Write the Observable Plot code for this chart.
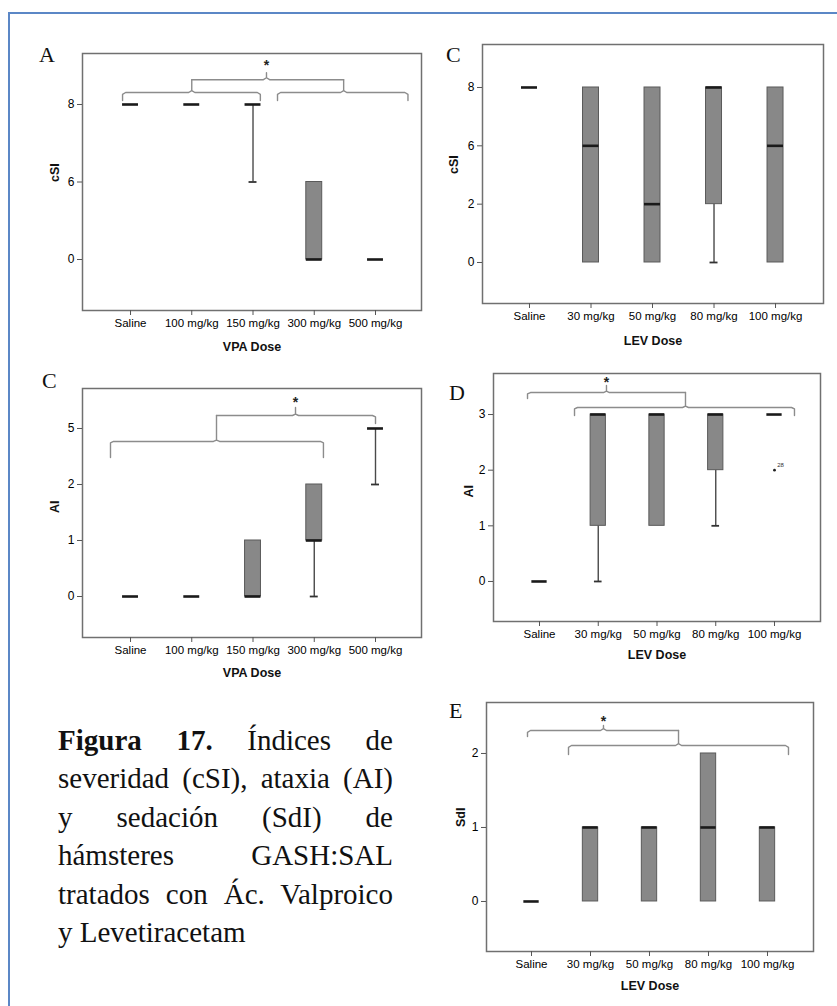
<!DOCTYPE html>
<html>
<head>
<meta charset="utf-8">
<script src="https://cdn.jsdelivr.net/npm/d3@7"></script>
<script src="https://cdn.jsdelivr.net/npm/@observablehq/plot@0.6"></script>
<style>
  html, body { margin: 0; padding: 0; background: #fff; overflow: hidden; }
  #page { position: relative; width: 837px; height: 1006px; overflow: hidden; background: #fff; }
  #border { position: absolute; left: 8px; top: 12px; width: 900px; height: 1100px;
            border-left: 2.5px solid #5b87c6; border-top: 2.5px solid #5b87c6; }
  .panel { position: absolute; }
  .letter { position: absolute; font-family: "Liberation Serif", "Times New Roman", serif;
            font-size: 22px; line-height: 22px; color: #111; }
  #caption { position: absolute; left: 58px; top: 721px; width: 335px;
             font-family: "Liberation Serif", "Times New Roman", serif; font-size: 29px;
             line-height: 38.4px; color: #111; }
  #caption div { text-align: justify; text-align-last: justify; white-space: nowrap; }
  #caption div.last { text-align-last: left; }
</style>
</head>
<body>
<div id="page">
  <div id="border"></div>
  <div class="letter" style="left:39px;top:43.6px">A</div>
  <div class="letter" style="left:446px;top:43.6px">C</div>
  <div class="letter" style="left:42px;top:369.6px">C</div>
  <div class="letter" style="left:449px;top:381.6px">D</div>
  <div class="letter" style="left:449px;top:699.6px">E</div>
  <div id="caption">
    <div><b>Figura 17.</b> Índices de</div>
    <div>severidad (cSI), ataxia (AI)</div>
    <div>y sedación (SdI) de</div>
    <div>hámsteres GASH:SAL</div>
    <div>tratados con Ác. Valproico</div>
    <div class="last">y Levetiracetam</div>
  </div>
</div>
<script>
// ---------- categories ----------
const vpaDoses = ["Saline", "100 mg/kg", "150 mg/kg", "300 mg/kg", "500 mg/kg"];
const levDoses = ["Saline", "30 mg/kg", "50 mg/kg", "80 mg/kg", "100 mg/kg"];

// ---------- Panel A: cSI vs VPA dose ----------
const csiVpaLevels = [0, 6, 8];
const csiVpaLo  = [8, 8, 6, 0, 0];
const csiVpaQ1  = [8, 8, 8, 0, 0];
const csiVpaMed = [8, 8, 8, 0, 0];
const csiVpaQ3  = [8, 8, 8, 6, 0];
const csiVpaHi  = [8, 8, 8, 6, 0];

// ---------- Panel C (top right): cSI vs LEV dose ----------
const csiLevLevels = [0, 2, 6, 8];
const csiLevLo  = [8, 0, 0, 0, 0];
const csiLevQ1  = [8, 0, 0, 2, 0];
const csiLevMed = [8, 6, 2, 8, 6];
const csiLevQ3  = [8, 8, 8, 8, 8];
const csiLevHi  = [8, 8, 8, 8, 8];

// ---------- Panel C (left middle): AI vs VPA dose ----------
const aiVpaLevels = [0, 1, 2, 5];
const aiVpaLo  = [0, 0, 0, 0, 2];
const aiVpaQ1  = [0, 0, 0, 1, 5];
const aiVpaMed = [0, 0, 0, 1, 5];
const aiVpaQ3  = [0, 0, 1, 2, 5];
const aiVpaHi  = [0, 0, 1, 2, 5];

// ---------- Panel D: AI vs LEV dose ----------
const aiLevLevels = [0, 1, 2, 3];
const aiLevLo  = [0, 0, 1, 1, 3];
const aiLevQ1  = [0, 1, 1, 2, 3];
const aiLevMed = [0, 3, 3, 3, 3];
const aiLevQ3  = [0, 3, 3, 3, 3];
const aiLevHi  = [0, 3, 3, 3, 3];
const aiLevOutliers = [{dose: 4, value: 2, id: "28"}];

// ---------- Panel E: SdI vs LEV dose ----------
const sdiLevLevels = [0, 1, 2];
const sdiLevLo  = [0, 0, 0, 0, 0];
const sdiLevQ1  = [0, 0, 0, 0, 0];
const sdiLevMed = [0, 1, 1, 1, 1];
const sdiLevQ3  = [0, 1, 1, 2, 1];
const sdiLevHi  = [0, 1, 1, 2, 1];

// ---------- significance braces (x in dose index, y in level rank) ----------
const bracesA = [
  {xa: -0.13, xb: 2.12, xc: 1.0,  y: 2.155, dropL: 0.105, dropR: 0.105, tip: 2.32},
  {xa: 2.40,  xb: 4.53, xc: 3.48, y: 2.155, dropL: 0.105, dropR: 0.105, tip: 2.32},
  {xa: 1.0,   xb: 3.48, xc: 2.22, y: 2.32,  dropL: 0,     dropR: 0,     tip: 2.41}
];
const starsA = [{x: 2.22, y: 2.54}];
const bracesAI = [
  {xa: -0.327, xb: 3.15, xc: 1.404, y: 2.768, dropL: 0.286, dropR: 0.286, tip: 3.232},
  {xa: 1.404,  xb: 4.0,  xc: 2.694, y: 3.232, dropL: 0,     dropR: 0.143, tip: 3.375}
];
const starsAI = [{x: 2.694, y: 3.518}];
const bracesD = [
  {xa: -0.204, xb: 2.485, xc: 1.14,  y: 3.395, dropL: 0.108, dropR: 0,     tip: 3.521},
  {xa: 0.596,  xb: 4.34,  xc: 2.485, y: 3.126, dropL: 0.144, dropR: 0.144, tip: 3.395}
];
const starsD = [{x: 1.14, y: 3.629}];
const bracesE = [
  {xa: -0.068, xb: 2.492, xc: 1.22,  y: 2.311, dropL: 0.081, dropR: 0,     tip: 2.378},
  {xa: 0.627,  xb: 4.356, xc: 2.492, y: 2.108, dropL: 0.122, dropR: 0.122, tip: 2.311}
];
const starsE = [{x: 1.22, y: 2.473}];

// ---------- helpers ----------
function bracePoints(braces) {
  const pts = [];
  braces.forEach((b, k) => {
    const e = 0.05, r = 0.025;
    const add = (x, y) => pts.push({x, y, k});
    if (b.dropL > 0) { add(b.xa, b.y - b.dropL); add(b.xa, b.y - Math.min(r, b.dropL)); add(b.xa + e, b.y); }
    else add(b.xa, b.y);
    add(b.xc - e, b.y); add(b.xc, b.y + r); add(b.xc, b.tip); add(b.xc, b.y + r); add(b.xc + e, b.y);
    if (b.dropR > 0) { add(b.xb - e, b.y); add(b.xb, b.y - Math.min(r, b.dropR)); add(b.xb, b.y - b.dropR); }
    else add(b.xb, b.y);
  });
  return pts;
}

function panel(cfg) {
  const rank = v => cfg.levels.indexOf(v);
  const rows = cfg.cats.map((c, i) => ({
    i, lo: rank(cfg.lo[i]), q1: rank(cfg.q1[i]), med: rank(cfg.med[i]),
    q3: rank(cfg.q3[i]), hi: rank(cfg.hi[i])
  }));
  const bh = 0.13, ch = 0.065;
  const xTicks = cfg.cats.map((c, i) => i);
  const yTicks = cfg.levels.map((v, i) => i);
  const marks = [
    Plot.frame({stroke: "#707070", strokeWidth: 1.5}),
    Plot.axisX(xTicks, {tickFormat: i => cfg.cats[i], tickSize: 5, tickPadding: 3, fontSize: 11.5, label: null, stroke: "#555", fill: "#000"}),
    Plot.axisY(yTicks, {tickFormat: i => cfg.levels[i], tickSize: 5, tickPadding: 3, fontSize: 12, label: null, stroke: "#555", fill: "#000"}),
    Plot.ruleX(rows.filter(d => d.lo < d.q1), {x: "i", y1: "lo", y2: "q1", stroke: "#4a4a4a", strokeWidth: 1.4}),
    Plot.ruleX(rows.filter(d => d.hi > d.q3), {x: "i", y1: "q3", y2: "hi", stroke: "#4a4a4a", strokeWidth: 1.4}),
    Plot.ruleY(rows.filter(d => d.lo < d.q1), {y: "lo", x1: d => d.i - ch, x2: d => d.i + ch, stroke: "#333", strokeWidth: 1.8}),
    Plot.ruleY(rows.filter(d => d.hi > d.q3), {y: "hi", x1: d => d.i - ch, x2: d => d.i + ch, stroke: "#333", strokeWidth: 1.8}),
    Plot.rect(rows.filter(d => d.q3 > d.q1), {x1: d => d.i - bh, x2: d => d.i + bh, y1: "q1", y2: "q3",
      fill: "#888888", stroke: "#5a5a5a", strokeWidth: 1}),
    Plot.ruleY(rows, {y: "med", x1: d => d.i - bh, x2: d => d.i + bh, stroke: "#1a1a1a", strokeWidth: 2.6}),
    Plot.text([cfg.xLabel], {text: d => d, frameAnchor: "bottom", dy: cfg.titleDy, fontWeight: "bold", fontSize: 12.5, lineAnchor: "middle", fill: "#111"}),
    Plot.text([cfg.yLabel], {text: d => d, frameAnchor: "left", dx: cfg.yLabelDx, rotate: -90, fontWeight: "bold", fontSize: 12.5, lineAnchor: "middle", fill: "#111"})
  ];
  if (cfg.braces) {
    marks.push(Plot.line(bracePoints(cfg.braces), {x: "x", y: "y", z: "k", stroke: "#8c8c8c", strokeWidth: 1.4, curve: "linear"}));
    marks.push(Plot.text(cfg.stars, {x: "x", y: "y", text: () => "*", fontSize: 14, fontWeight: "bold", lineAnchor: "middle", dy: 3, fill: "#222"}));
  }
  if (cfg.outliers) {
    marks.push(Plot.dot(cfg.outliers, {x: "dose", y: d => rank(d.value), r: 1.4, fill: "#222", stroke: null}));
    marks.push(Plot.text(cfg.outliers, {x: "dose", y: d => rank(d.value), text: "id", fontSize: 6, dx: 6, dy: -5, fill: "#333"}));
  }
  const svg = Plot.plot({
    width: cfg.width, height: cfg.height,
    marginLeft: cfg.ml, marginRight: cfg.mr, marginTop: cfg.mt, marginBottom: cfg.mb,
    x: {domain: cfg.xDomain},
    y: {domain: cfg.yDomain},
    style: {fontFamily: "'Liberation Sans', Arial, sans-serif", color: "#1a1a1a", background: "transparent", overflow: "visible"},
    marks
  });
  const wrap = document.createElement("div");
  wrap.className = "panel";
  wrap.style.left = cfg.left + "px";
  wrap.style.top = cfg.top + "px";
  wrap.style.width = cfg.width + "px";
  wrap.appendChild(svg);
  document.getElementById("page").appendChild(wrap);
}

panel({cats: vpaDoses, levels: csiVpaLevels, lo: csiVpaLo, q1: csiVpaQ1, med: csiVpaMed, q3: csiVpaQ3, hi: csiVpaHi,
  braces: bracesA, stars: starsA, xLabel: "VPA Dose", yLabel: "cSI",
  left: 0, top: 40, width: 430, height: 325, ml: 82, mr: 9, mt: 13, mb: 55,
  xDomain: [-0.784, 4.751], yDomain: [-0.658, 2.658], titleDy: 36, yLabelDx: -28});

panel({cats: levDoses, levels: csiLevLevels, lo: csiLevLo, q1: csiLevQ1, med: csiLevMed, q3: csiLevQ3, hi: csiLevHi,
  xLabel: "LEV Dose", yLabel: "cSI",
  left: 430, top: 30, width: 407, height: 325, ml: 52, mr: 14, mt: 14, mb: 52,
  xDomain: [-0.764, 4.78], yDomain: [-0.703, 3.737], titleDy: 37, yLabelDx: -29});

panel({cats: vpaDoses, levels: aiVpaLevels, lo: aiVpaLo, q1: aiVpaQ1, med: aiVpaMed, q3: aiVpaQ3, hi: aiVpaHi,
  braces: bracesAI, stars: starsAI, xLabel: "VPA Dose", yLabel: "AI",
  left: 0, top: 370, width: 430, height: 320, ml: 82, mr: 9, mt: 18, mb: 53,
  xDomain: [-0.784, 4.751], yDomain: [-0.732, 3.714], titleDy: 35, yLabelDx: -28});

panel({cats: levDoses, levels: aiLevLevels, lo: aiLevLo, q1: aiLevQ1, med: aiLevMed, q3: aiLevQ3, hi: aiLevHi,
  braces: bracesD, stars: starsD, outliers: aiLevOutliers, xLabel: "LEV Dose", yLabel: "AI",
  left: 430, top: 360, width: 407, height: 310, ml: 63, mr: 17, mt: 13, mb: 49,
  xDomain: [-0.783, 4.783], yDomain: [-0.719, 3.737], titleDy: 33, yLabelDx: -25});

panel({cats: levDoses, levels: sdiLevLevels, lo: sdiLevLo, q1: sdiLevQ1, med: sdiLevMed, q3: sdiLevQ3, hi: sdiLevHi,
  braces: bracesE, stars: starsE, xLabel: "LEV Dose", yLabel: "SdI",
  left: 430, top: 690, width: 407, height: 310, ml: 56, mr: 24, mt: 12, mb: 49,
  xDomain: [-0.763, 4.78], yDomain: [-0.676, 2.689], titleDy: 34, yLabelDx: -26});
</script>
</body>
</html>
